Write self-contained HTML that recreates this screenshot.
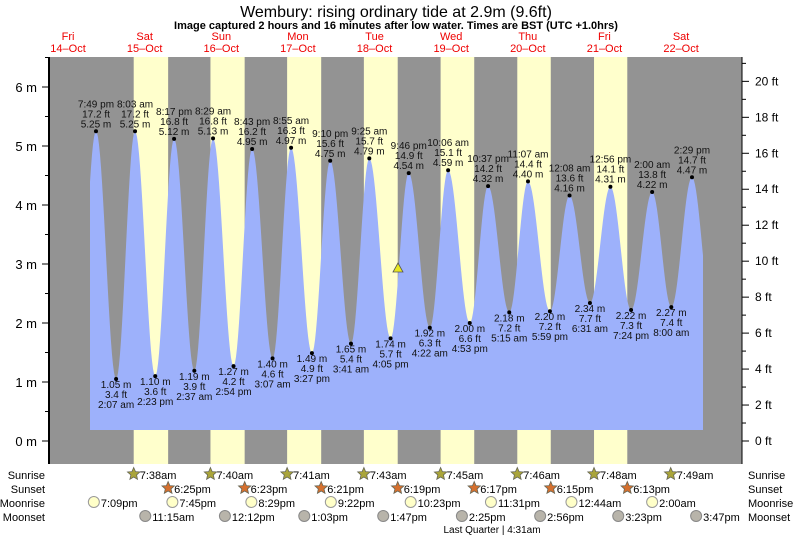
<!DOCTYPE html>
<html><head><meta charset="utf-8"><style>
body{margin:0;background:#fff;width:793px;height:537px;overflow:hidden}
svg{font-family:"Liberation Sans",sans-serif}
</style></head><body>
<svg id="s" width="793" height="537" xmlns="http://www.w3.org/2000/svg"></svg>
<script>
const S=document.getElementById('s');let h='';
const X=t=>32.7+3.193*t, Y=m=>441-59*m;
h+='<rect x="49" y="57" width="693" height="407" fill="#939393"/>';
const days=[[24,7.633,18.417],[48,7.667,18.383],[72,7.683,18.35],[96,7.717,18.317],[120,7.75,18.283],[144,7.767,18.25],[168,7.8,18.217]];
days.forEach(d=>{h+=`<rect x="${X(d[0]+d[1])}" y="57" width="${X(d[0]+d[2])-X(d[0]+d[1])}" height="407" fill="#ffffcc"/>`});
const E=[[13.5,1.0],[19.82,5.25,'7:49 pm'],[26.12,1.05,'2:07 am'],[32.05,5.25,'8:03 am'],[38.38,1.10,'2:23 pm'],[44.28,5.12,'8:17 pm'],[50.62,1.19,'2:37 am'],[56.48,5.13,'8:29 am'],[62.9,1.27,'2:54 pm'],[68.72,4.95,'8:43 pm'],[75.12,1.40,'3:07 am'],[80.92,4.97,'8:55 am'],[87.45,1.49,'3:27 pm'],[93.17,4.75,'9:10 pm'],[99.68,1.65,'3:41 am'],[105.42,4.79,'9:25 am'],[112.08,1.74,'4:05 pm'],[117.77,4.54,'9:46 pm'],[124.37,1.92,'4:22 am'],[130.1,4.59,'10:06 am'],[136.88,2.00,'4:53 pm'],[142.62,4.32,'10:37 pm'],[149.25,2.18,'5:15 am'],[155.12,4.40,'11:07 am'],[161.98,2.20,'5:59 pm'],[168.13,4.16,'12:08 am'],[174.52,2.34,'6:31 am'],[180.93,4.31,'12:56 pm'],[187.4,2.22,'7:24 pm'],[194,4.22,'2:00 am'],[200,2.27,'8:00 am'],[206.48,4.47,'2:29 pm'],[212.7,2.2]];
function lv(t){for(let i=0;i<E.length-1;i++){const a=E[i],b=E[i+1];if(t>=a[0]&&t<=b[0]){const f=(t-a[0])/(b[0]-a[0]);return a[1]+(b[1]-a[1])*(1-Math.cos(Math.PI*f))/2}}return 2}
let p=`M90,430`;for(let x=90;x<=703;x+=1){const t=(x-32.7)/3.193;p+=`L${x},${Y(lv(t)).toFixed(1)}`}p+='L703,430Z';
h+=`<path d="${p}" fill="#9db1fb"/>`;
E.forEach((e,i)=>{if(!e[2])return;const x=X(e[0]),y=Y(e[1]),hi=i%2==1;const ft=(e[1]*3.281).toFixed(1)+' ft',m=e[1].toFixed(2)+' m';
h+=`<circle cx="${x}" cy="${y}" r="2" fill="#000"/>`;
const L=hi?[e[2],ft,m]:[m,ft,e[2]];const y0=hi?y-24:y+9;
L.forEach((s,k)=>{h+=`<text x="${x}" y="${y0+k*10}" font-size="10" text-anchor="middle" fill="#111">${s}</text>`})});
h+='<line x1="49" y1="57" x2="49" y2="464" stroke="#000" stroke-width="2"/><line x1="742" y1="57" x2="742" y2="464" stroke="#000"/>';
for(let m=0;m<=6.5;m+=0.5){const y=Y(m);h+=`<line x1="${m%1?45:42}" y1="${y}" x2="49" y2="${y}" stroke="#000"/>`;if(m%1==0)h+=`<text x="37" y="${y+5}" font-size="13" text-anchor="end">${m} m</text>`}
for(let f=0;f<=21;f++){const y=441-f/3.281*59;h+=`<line x1="742" y1="${y}" x2="${f%2?746:749}" y2="${y}" stroke="#000"/>`;if(f%2==0)h+=`<text x="755" y="${y+4}" font-size="12">${f} ft</text>`}
h+=`<polygon points="398,263 393,272 403,272" fill="#e8e820" stroke="#555" stroke-width="0.8"/>`;
h+=`<text x="396" y="17" font-size="16" text-anchor="middle">Wembury: rising  ordinary tide at 2.9m (9.6ft)</text>`;
h+=`<text x="396" y="29" font-size="11" font-weight="bold" text-anchor="middle">Image captured 2 hours and 16 minutes after low water. Times are BST (UTC +1.0hrs)</text>`;
const dn=['Fri','Sat','Sun','Mon','Tue','Wed','Thu','Fri','Sat'];
dn.forEach((d,i)=>{const x=X(i*24+12)-3;h+=`<text x="${x}" y="40" font-size="11" fill="#e00" text-anchor="middle">${d}</text><text x="${x}" y="52" font-size="11" fill="#e00" text-anchor="middle">${14+i}&#8211;Oct</text>`});
[['Sunrise',479],['Sunset',493],['Moonrise',507],['Moonset',521]].forEach(r=>{h+=`<text x="45" y="${r[1]}" font-size="11" text-anchor="end">${r[0]}</text><text x="748" y="${r[1]}" font-size="11">${r[0]}</text>`});
function star(cx,cy,c){let pts='';for(let k=0;k<10;k++){const a=-Math.PI/2+k*Math.PI/5,r=k%2?3:6.5;pts+=`${(cx+r*Math.cos(a)).toFixed(1)},${(cy+r*Math.sin(a)).toFixed(1)} `}return `<polygon points="${pts}" fill="${c}" stroke="#665" stroke-width="0.8"/>`}
const sr=['7:38am','7:40am','7:41am','7:43am','7:45am','7:46am','7:48am','7:49am'],ss=['6:25pm','6:23pm','6:21pm','6:19pm','6:17pm','6:15pm','6:13pm'];
sr.forEach((s,i)=>{const x=X(24*(i+1)+[7.633,7.667,7.683,7.717,7.75,7.767,7.8,7.817][i]);h+=star(x,474,'#aaa53a')+`<text x="${x+6}" y="479" font-size="11">${s}</text>`});
ss.forEach((s,i)=>{const x=X(24*(i+1)+days[i][2]);h+=star(x,488,'#d5702e')+`<text x="${x+6}" y="493" font-size="11">${s}</text>`});
const mr=[[19.15,'7:09pm'],[43.75,'7:45pm'],[68.48,'8:29pm'],[93.37,'9:22pm'],[118.38,'10:23pm'],[143.52,'11:31pm'],[168.73,'12:44am'],[194,'2:00am']];
mr.forEach(m=>{const x=X(m[0]);h+=`<circle cx="${x}" cy="502" r="5.5" fill="#ffffc8" stroke="#999"/><text x="${x+7}" y="507" font-size="11">${m[1]}</text>`});
const ms=[[35.25,'11:15am'],[60.2,'12:12pm'],[85.05,'1:03pm'],[109.78,'1:47pm'],[134.42,'2:25pm'],[158.93,'2:56pm'],[183.38,'3:23pm'],[207.78,'3:47pm']];
ms.forEach(m=>{const x=X(m[0]);h+=`<circle cx="${x}" cy="516" r="5.5" fill="#b8b4aa" stroke="#888"/><text x="${x+7}" y="521" font-size="11">${m[1]}</text>`});
h+=`<text x="492" y="533" font-size="10" text-anchor="middle">Last Quarter | 4:31am</text>`;
S.innerHTML=h;
</script></body></html>
